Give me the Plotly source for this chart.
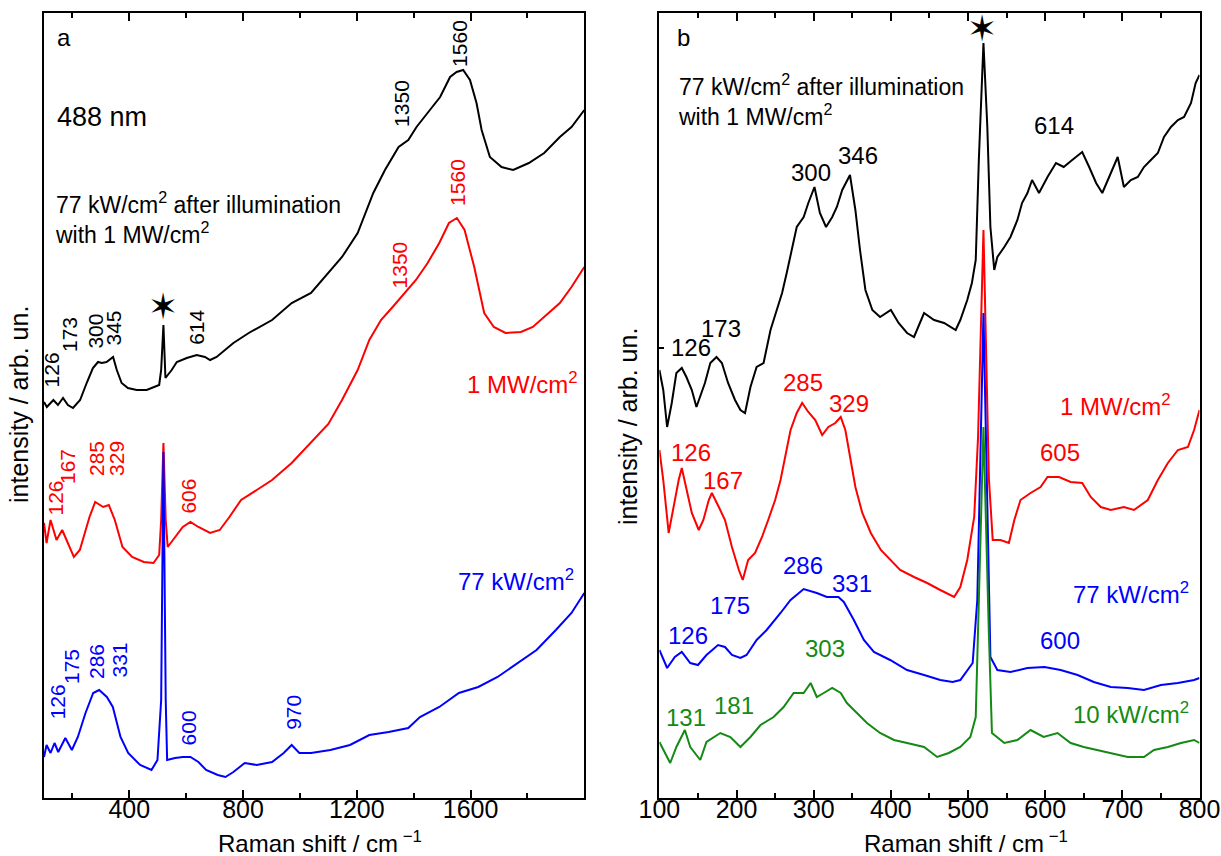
import plotly.graph_objects as go

FONT = "Liberation Sans, Arial, sans-serif"
W, H = 1221, 856

# ---------------- Panel a (488 nm), Raman shift / cm-1 vs intensity (arb. un.) ----------------
a_black_x = [100, 110, 133, 149, 167, 184, 202, 227, 250, 272, 290, 303, 320, 343, 356, 373, 395, 426,
             461, 490, 505, 512, 520, 527, 549, 567, 602, 637, 666, 684, 707, 766, 820, 902, 971, 1039,
             1107, 1148, 1203, 1231, 1258, 1299, 1326, 1347, 1381, 1410, 1457, 1493, 1528, 1551, 1574,
             1598, 1621, 1639, 1668, 1709, 1750, 1805, 1859, 1914, 1955, 2000]
a_black_y = [396, 391, 398, 393, 400, 393, 390, 398, 415, 430, 436, 435, 436, 441, 428, 415, 410, 408,
             408, 411, 413, 428, 473, 420, 428, 436, 440, 443, 441, 438, 441, 455, 465, 478, 495, 505,
             528, 541, 565, 585, 605, 628, 641, 651, 658, 671, 688, 701, 721, 726, 728,
             718, 695, 668, 641, 631, 628, 635, 645, 661, 671, 688]

a_red_x = [100, 109, 123, 144, 164, 185, 205, 226, 260, 280, 308, 328, 349, 376, 410, 451, 485, 505,
           512, 520, 528, 535, 554, 588, 615, 643, 684, 718, 752, 793, 848, 902, 971, 1039, 1100, 1148,
           1203, 1244, 1285, 1326, 1367, 1408, 1449, 1490, 1524, 1552, 1579, 1613, 1648, 1682, 1723,
           1777, 1819, 1873, 1914, 1955, 2000]
a_red_y = [275, 255, 278, 258, 268, 255, 241, 248, 281, 296, 291, 293, 278, 251, 241, 236, 235, 243,
           278, 355, 278, 251, 258, 271, 276, 271, 265, 268, 281, 298, 308, 318, 335, 355, 374, 398,
           428, 458, 478, 491, 505, 518, 535, 555, 575, 580, 568, 531, 485, 471, 465,
           466, 471, 485, 495, 511, 531]

a_blue_x = [100, 109, 123, 137, 150, 175, 198, 219, 246, 273, 294, 321, 342, 369, 396, 438, 478, 499,
            512, 520, 528, 533, 561, 588, 615, 643, 670, 711, 738, 766, 806, 848, 902, 943, 971, 998,
            1039, 1107, 1176, 1244, 1312, 1381, 1422, 1490, 1559, 1627, 1695, 1764, 1832, 1900, 1955, 2000]
a_blue_y = [41, 53, 45, 55, 46, 60, 48, 61, 85, 105, 108, 101, 91, 61, 45, 33, 28, 38,
            98, 346, 98, 38, 40, 41, 41, 36, 28, 23, 21, 26, 35, 33, 36, 45, 53, 45,
            45, 48, 53, 63, 66, 70, 81, 91, 105, 111, 121, 135, 148, 168, 185, 205]

# ---------------- Panel b (zoom 100-800 cm-1) ----------------
b_black_x = [100, 105, 110, 116, 122, 129, 135, 142, 148, 153, 159, 166, 174, 181, 189, 198, 205, 211,
             218, 226, 235, 244, 252, 259, 265, 272, 278, 287, 293, 301, 308, 316, 324, 330, 337, 347,
             354, 360, 367, 376, 386, 400, 410, 421, 430, 443, 456, 469, 484, 490, 499, 505, 510, 514,
             520, 525, 529, 534, 538, 547, 555, 564, 570, 577, 583, 592, 603, 614, 624, 635, 648, 657,
             666, 674, 683, 694, 702, 711, 720, 728, 737, 746, 754, 763, 772, 780, 789, 795, 800]
b_black_y = [428, 408, 371, 395, 425, 430, 421, 408, 391, 401, 415, 435, 441, 435, 415, 398, 388, 385,
             411, 431, 435, 468, 488, 505, 525, 548, 571, 581, 595, 611, 585, 571, 581, 591, 608, 623,
             588, 548, 508, 488, 481, 488, 475, 465, 461, 485, 478, 475, 468, 478, 498, 515, 538, 638,
             755, 671, 571, 528, 541, 551, 561, 578, 595, 605, 618, 605, 621, 635, 631, 638, 646, 631,
             615, 605, 621, 641, 611, 618, 621, 631, 638, 645, 661, 671, 678, 681, 695, 715, 723]

b_red_x = [100, 105, 112, 118, 125, 129, 136, 142, 151, 157, 164, 168, 177, 185, 194, 203, 208, 215,
           224, 233, 241, 250, 257, 263, 270, 278, 285, 293, 302, 311, 319, 328, 335, 341, 348, 354,
           363, 374, 387, 400, 412, 430, 447, 464, 482, 490, 499, 508, 513, 520, 527, 532, 542, 553,
           560, 568, 581, 594, 603, 618, 633, 648, 659, 672, 685, 702, 715, 733, 746, 759, 772, 785,
           793, 800]
b_red_y = [348, 318, 265, 291, 318, 330, 305, 285, 268, 278, 298, 305, 291, 278, 251, 228, 218, 238,
           245, 261, 278, 298, 318, 341, 368, 385, 395, 386, 378, 363, 371, 375, 381, 368, 338, 311,
           285, 265, 248, 238, 228, 221, 215, 208, 201, 211, 238, 281, 361, 568, 320, 258, 258, 255,
           278, 298, 305, 311, 321, 321, 316, 315, 301, 291, 288, 291, 288, 298, 318, 335, 348, 351,
           368, 388]

b_blue_x = [100, 110, 120, 129, 140, 150, 161, 176, 185, 194, 205, 213, 226, 239, 257, 270, 287, 304,
            317, 332, 339, 352, 365, 378, 399, 421, 443, 464, 480, 490, 506, 512, 520, 526, 529, 538,
            555, 577, 599, 620, 642, 663, 685, 707, 728, 750, 772, 793, 800]
b_blue_y = [148, 130, 141, 146, 135, 133, 143, 153, 151, 143, 140, 143, 158, 168, 185, 198, 209, 205,
            201, 201, 196, 178, 158, 146, 138, 128, 123, 118, 116, 118, 135, 198, 485, 250, 141, 128,
            126, 130, 131, 128, 123, 116, 111, 110, 108, 113, 115, 118, 120]

b_green_x = [100, 114, 122, 133, 140, 153, 161, 179, 192, 205, 218, 231, 248, 261, 274, 287, 296, 304,
             313, 324, 335, 343, 356, 369, 386, 404, 421, 443, 460, 475, 490, 503, 510, 514, 520, 527,
             531, 547, 564, 581, 598, 616, 633, 650, 668, 685, 707, 728, 741, 759, 776, 793, 800]
b_green_y = [56, 35, 51, 68, 51, 38, 56, 65, 61, 51, 61, 73, 81, 91, 105, 105, 115, 101,
             105, 110, 105, 95, 85, 75, 65, 58, 55, 51, 41, 45, 51, 61, 81, 198, 371, 165,
             65, 55, 58, 68, 61, 65, 55, 51, 48, 45, 41, 41, 48, 51, 55, 58, 55]

BLACK, RED, BLUE, GREEN = "#000000", "#ff0000", "#0000ff", "#138a13"

fig = go.Figure()
for xs, ys, c in [(a_black_x, a_black_y, BLACK), (a_red_x, a_red_y, RED), (a_blue_x, a_blue_y, BLUE)]:
    fig.add_trace(go.Scatter(x=xs, y=ys, mode="lines", line=dict(color=c, width=2),
                             xaxis="x", yaxis="y", showlegend=False, hoverinfo="skip"))
for xs, ys, c in [(b_black_x, b_black_y, BLACK), (b_red_x, b_red_y, RED),
                  (b_blue_x, b_blue_y, BLUE), (b_green_x, b_green_y, GREEN)]:
    fig.add_trace(go.Scatter(x=xs, y=ys, mode="lines", line=dict(color=c, width=2),
                             xaxis="x2", yaxis="y2", showlegend=False, hoverinfo="skip"))

ydom = [58 / H, 843 / H]
common_x = dict(showline=True, linewidth=2, linecolor="black", mirror="allticks", ticks="inside",
                ticklen=8, tickwidth=2, tickcolor="black", showgrid=False, zeroline=False,
                automargin=False, ticklabelstandoff=-12,
                tickfont=dict(family=FONT, size=25, color="black"))
common_y = dict(showline=True, linewidth=2, linecolor="black", mirror=True, showgrid=False,
                zeroline=False, showticklabels=False, range=[0, 785], domain=ydom, automargin=False)

fig.update_layout(
    width=W, height=H, margin=dict(l=0, r=0, t=0, b=0, pad=0), autosize=False,
    paper_bgcolor="white", plot_bgcolor="white",
    font=dict(family=FONT, size=24, color="black"),
    xaxis=dict(domain=[44 / W, 584.3 / W], range=[100, 2000], tickmode="array",
               tickvals=[400, 800, 1200, 1600], anchor="y",
               minor=dict(tick0=0, dtick=200, ticks="inside", ticklen=5, tickwidth=2, tickcolor="black"),
               **common_x),
    yaxis=dict(anchor="x", ticks="", **common_y),
    xaxis2=dict(domain=[659.4 / W, 1199.5 / W], range=[100, 800], tick0=0, dtick=100, anchor="y2",
                minor=dict(tick0=0, dtick=50, ticks="inside", ticklen=5, tickwidth=2, tickcolor="black"),
                **common_x),
    yaxis2=dict(anchor="x2", ticks="inside", tickvals=[450], ticklen=5, tickwidth=1.5,
                tickcolor="black", **common_y),
)

ann = []

def add(text, x, y, panel, color="black", size=24, angle=0, xanchor="center", yanchor="middle"):
    ann.append(dict(text=text, x=x, y=y, xref="x" if panel == "a" else "x2",
                    yref="y" if panel == "a" else "y2", showarrow=False, textangle=angle,
                    xanchor=xanchor, yanchor=yanchor, align="left",
                    font=dict(family=FONT, size=size, color=color)))

# panel a texts
add("a", 139, 761, "a", xanchor="left")
add("488 nm", 139, 681, "a", size=27, xanchor="left")
add("77 kW/cm<sup>2</sup> after illumination<br>with 1 MW/cm<sup>2</sup>", 130, 580, "a",
    size=23, xanchor="left")
for t, x, y in [("126", 126, 428), ("173", 188, 463), ("300", 278, 467), ("345", 341, 470),
                ("614", 634, 471), ("1350", 1355, 695), ("1560", 1559, 755)]:
    add(t, x, y, "a", BLACK, 21, -90)
for t, x, y in [("126", 137, 300), ("167", 181, 331), ("285", 283, 339), ("329", 353, 340),
                ("606", 605, 302), ("1350", 1350, 533), ("1560", 1552, 616)]:
    add(t, x, y, "a", RED, 21, -90)
for t, x, y in [("126", 147, 96), ("175", 195, 131), ("286", 283, 136), ("331", 362, 138),
                ("600", 608, 70), ("970", 975, 86)]:
    add(t, x, y, "a", BLUE, 21, -90)
add("1 MW/cm<sup>2</sup>", 1580, 415, "a", RED, xanchor="left")
add("77 kW/cm<sup>2</sup>", 1549, 218, "a", BLUE, xanchor="left")
add("\u2736", 518, 492, "a", BLACK, 36)

# panel b texts
add("b", 120, 761, "b", xanchor="left")
add("77 kW/cm<sup>2</sup> after illumination<br>with 1 MW/cm<sup>2</sup>", 122, 698, "b",
    size=23, xanchor="left")
for t, x, y in [("126", 141, 451), ("173", 180, 470), ("300", 296, 626), ("346", 357, 643),
                ("614", 611, 673)]:
    add(t, x, y, "b", BLACK)
for t, x, y in [("285", 286, 416), ("329", 346, 395), ("126", 141, 346), ("167", 182, 318),
                ("605", 619, 346)]:
    add(t, x, y, "b", RED)
for t, x, y in [("286", 286, 233), ("331", 349, 215), ("175", 192, 193), ("126", 137, 163),
                ("600", 619, 158)]:
    add(t, x, y, "b", BLUE)
for t, x, y in [("303", 314, 150), ("131", 135, 81), ("181", 197, 93)]:
    add(t, x, y, "b", GREEN)
add("1 MW/cm<sup>2</sup>", 616, 393, "b", RED, xanchor="left")
add("77 kW/cm<sup>2</sup>", 634, 205, "b", BLUE, xanchor="left")
add("10 kW/cm<sup>2</sup>", 634, 85, "b", GREEN, xanchor="left")
add("\u2736", 518, 770, "b", BLACK, 36)

# axis titles (paper coordinates)
for xc in (320, 966):
    ann.append(dict(text="Raman shift / cm<sup> \u22121</sup>", x=xc / W, y=1 - 842 / H, xref="paper",
                    yref="paper", showarrow=False, xanchor="center", yanchor="middle",
                    font=dict(family=FONT, size=24, color="black")))
for xc, yc in ((19, 405), (628, 427)):
    ann.append(dict(text="intensity / arb. un.", x=xc / W, y=1 - yc / H, xref="paper", yref="paper",
                    showarrow=False, textangle=-90, xanchor="center", yanchor="middle",
                    font=dict(family=FONT, size=25, color="black")))

fig.update_layout(annotations=ann)
fig.write_html("out.html")
